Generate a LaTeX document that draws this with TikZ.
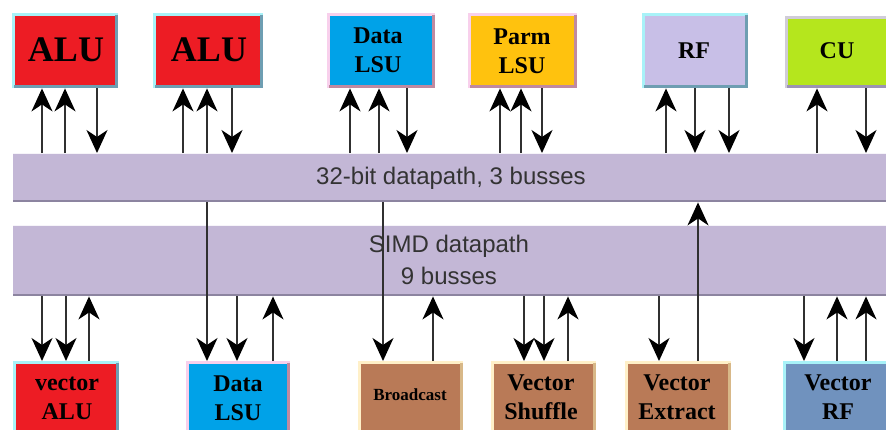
\documentclass[tikz,border=0pt]{standalone}
\usepackage{fontspec}
\setmainfont{Liberation Serif}
\newfontfamily\busfont{Liberation Sans}
\usetikzlibrary{arrows.meta}
\definecolor{alured}{HTML}{ED1C24}
\definecolor{lsublue}{HTML}{00A2E8}
\definecolor{parmyel}{HTML}{FFC20E}
\definecolor{rflav}{HTML}{C8BFE7}
\definecolor{cugreen}{HTML}{B5E61D}
\definecolor{brownbox}{HTML}{B97A57}
\definecolor{vrfblue}{HTML}{7092BE}
\definecolor{busfill}{HTML}{C3B7D6}
\definecolor{busedge}{HTML}{8C84A0}
\definecolor{cyanlt}{HTML}{A8F2F8}
\definecolor{cyandk}{HTML}{6E9EB2}
\definecolor{pinklt}{HTML}{F8D0EC}
\definecolor{pinkdk}{HTML}{C08AA0}
\definecolor{tanlt}{HTML}{FFF0C8}
\definecolor{tandk}{HTML}{D8B888}
\definecolor{graylt}{HTML}{D0CCD8}
\definecolor{graydk}{HTML}{9C94B4}
\definecolor{wiregray}{HTML}{303030}
\tikzset{
  x=1pt, y=-1pt,
  unit/.style={rectangle, inner sep=0pt, anchor=north west},
  lbl/.style={font=\bfseries\fontsize{24}{29}\selectfont, align=center, text=black, inner sep=0pt},
  biglbl/.style={font=\bfseries\fontsize{36}{40}\selectfont, text=black, inner sep=0pt},
  wire/.style={draw=wiregray, line width=1.6pt, -{Stealth[length=23pt,width=21pt,inset=7pt,black]}},
  bustext/.style={font=\busfont\fontsize{24}{32}\selectfont, text=black!80, align=center, inner sep=0pt},
}
% \mybox{name}{x0}{y0}{x1}{y1}{fill}{light}{dark}
\newcommand{\mybox}[8]{%
  \fill[#6] (#2,#3) rectangle (#4,#5);
  \node[unit, minimum width={#4-#2}, minimum height={#5-#3}] (#1) at (#2,#3) {};
  \draw[#7, line width=3pt] (#2+1.5,#5) -- (#2+1.5,#3+1.5) -- (#4,#3+1.5);
  \draw[#8, line width=3pt] (#4-1.5,#3+1.5) -- (#4-1.5,#5-1.5) -- (#2+1.5,#5-1.5);
}
\begin{document}
\begin{tikzpicture}
\useasboundingbox (0,0) rectangle (886,429);
\clip (0,0) rectangle (886,429);

% busses
\fill[busfill] (13,153) rectangle (900,202);
\draw[white!85!busfill, line width=1pt] (13,153.5) -- (900,153.5);
\draw[busedge, line width=2pt] (13,201) -- (900,201);
\node[unit, minimum width=887pt, minimum height=49pt] (bus32) at (13,153) {};
\node[bustext] at (451,178) {32-bit datapath, 3 busses};

\fill[busfill] (13,225) rectangle (900,296);
\draw[white!85!busfill, line width=1pt] (13,225.5) -- (900,225.5);
\draw[busedge, line width=2pt] (13,295) -- (900,295);
\node[unit, minimum width=887pt, minimum height=71pt] (simd) at (13,225) {};
\node[bustext] at (449,260) {SIMD datapath\\9 busses};

% top units
\mybox{alu1}{12}{13}{118}{88}{alured}{cyanlt}{cyandk}
\node[biglbl] at (66,50) {ALU};
\mybox{alu2}{153}{13}{263}{88}{alured}{cyanlt}{cyandk}
\node[biglbl] at (209,50) {ALU};
\mybox{dlsu}{327}{13}{435}{88}{lsublue}{pinklt}{pinkdk}
\node[lbl] at (378,50) {Data\\LSU};
\mybox{plsu}{468}{13}{577}{88}{parmyel}{pinklt}{pinkdk}
\node[lbl] at (522,51) {Parm\\LSU};
\mybox{rf}{642}{13}{748}{88}{rflav}{cyanlt}{cyandk}
\node[lbl] at (694,51) {RF};
\mybox{cu}{785}{16}{900}{88}{cugreen}{graylt}{graydk}
\node[lbl] at (837,51) {CU};

% bottom units
\mybox{valu}{13}{361}{119}{445}{alured}{cyanlt}{cyandk}
\node[lbl] at (67,398) {vector\\ALU};
\mybox{dlsub}{186}{361}{290}{445}{lsublue}{pinklt}{pinkdk}
\node[lbl] at (238,398) {Data\\LSU};
\mybox{bcast}{358}{361}{463}{445}{brownbox}{tanlt}{tandk}
\node[font=\bfseries\fontsize{17}{20}\selectfont, inner sep=0pt] at (410,395) {Broadcast};
\mybox{vshuf}{491}{361}{596}{445}{brownbox}{tanlt}{tandk}
\node[lbl] at (541,397) {Vector\\Shuffle};
\mybox{vext}{625}{361}{731}{445}{brownbox}{tanlt}{tandk}
\node[lbl] at (677,397) {Vector\\Extract};
\mybox{vrf}{783}{361}{900}{445}{vrfblue}{cyanlt}{cyandk}
\node[lbl] at (838,397) {Vector\\RF};

% top connectors
\draw[wire] (42,0 |- bus32.north) -- (42,0 |- alu1.south);
\draw[wire] (65,0 |- bus32.north) -- (65,0 |- alu1.south);
\draw[wire] (97,0 |- alu1.south) -- (97,0 |- bus32.north);
\draw[wire] (183,0 |- bus32.north) -- (183,0 |- alu2.south);
\draw[wire] (207,0 |- bus32.north) -- (207,0 |- alu2.south);
\draw[wire] (232,0 |- alu2.south) -- (232,0 |- bus32.north);
\draw[wire] (350,0 |- bus32.north) -- (350,0 |- dlsu.south);
\draw[wire] (379,0 |- bus32.north) -- (379,0 |- dlsu.south);
\draw[wire] (407,0 |- dlsu.south) -- (407,0 |- bus32.north);
\draw[wire] (500,0 |- bus32.north) -- (500,0 |- plsu.south);
\draw[wire] (521,0 |- bus32.north) -- (521,0 |- plsu.south);
\draw[wire] (542,0 |- plsu.south) -- (542,0 |- bus32.north);
\draw[wire] (666,0 |- bus32.north) -- (666,0 |- rf.south);
\draw[wire] (695,0 |- rf.south) -- (695,0 |- bus32.north);
\draw[wire] (729,0 |- rf.south) -- (729,0 |- bus32.north);
\draw[wire] (817,0 |- bus32.north) -- (817,0 |- cu.south);
\draw[wire] (866,0 |- cu.south) -- (866,0 |- bus32.north);

% bottom connectors
\draw[wire] (42,0 |- simd.south) -- (42,0 |- valu.north);
\draw[wire] (66,0 |- simd.south) -- (66,0 |- valu.north);
\draw[wire] (89,0 |- valu.north) -- (89,0 |- simd.south);
\draw[wire] (207,0 |- bus32.south) -- (207,0 |- dlsub.north);
\draw[wire] (237,0 |- simd.south) -- (237,0 |- dlsub.north);
\draw[wire] (273,0 |- dlsub.north) -- (273,0 |- simd.south);
\draw[wire] (383,0 |- bus32.south) -- (383,0 |- bcast.north);
\draw[wire] (433,0 |- bcast.north) -- (433,0 |- simd.south);
\draw[wire] (524,0 |- simd.south) -- (524,0 |- vshuf.north);
\draw[wire] (544,0 |- simd.south) -- (544,0 |- vshuf.north);
\draw[wire] (568,0 |- vshuf.north) -- (568,0 |- simd.south);
\draw[wire] (659,0 |- simd.south) -- (659,0 |- vext.north);
\draw[wire] (698,0 |- vext.north) -- (698,0 |- bus32.south);
\draw[wire] (804,0 |- simd.south) -- (804,0 |- vrf.north);
\draw[wire] (837,0 |- vrf.north) -- (837,0 |- simd.south);
\draw[wire] (866,0 |- vrf.north) -- (866,0 |- simd.south);
\end{tikzpicture}
\end{document}
